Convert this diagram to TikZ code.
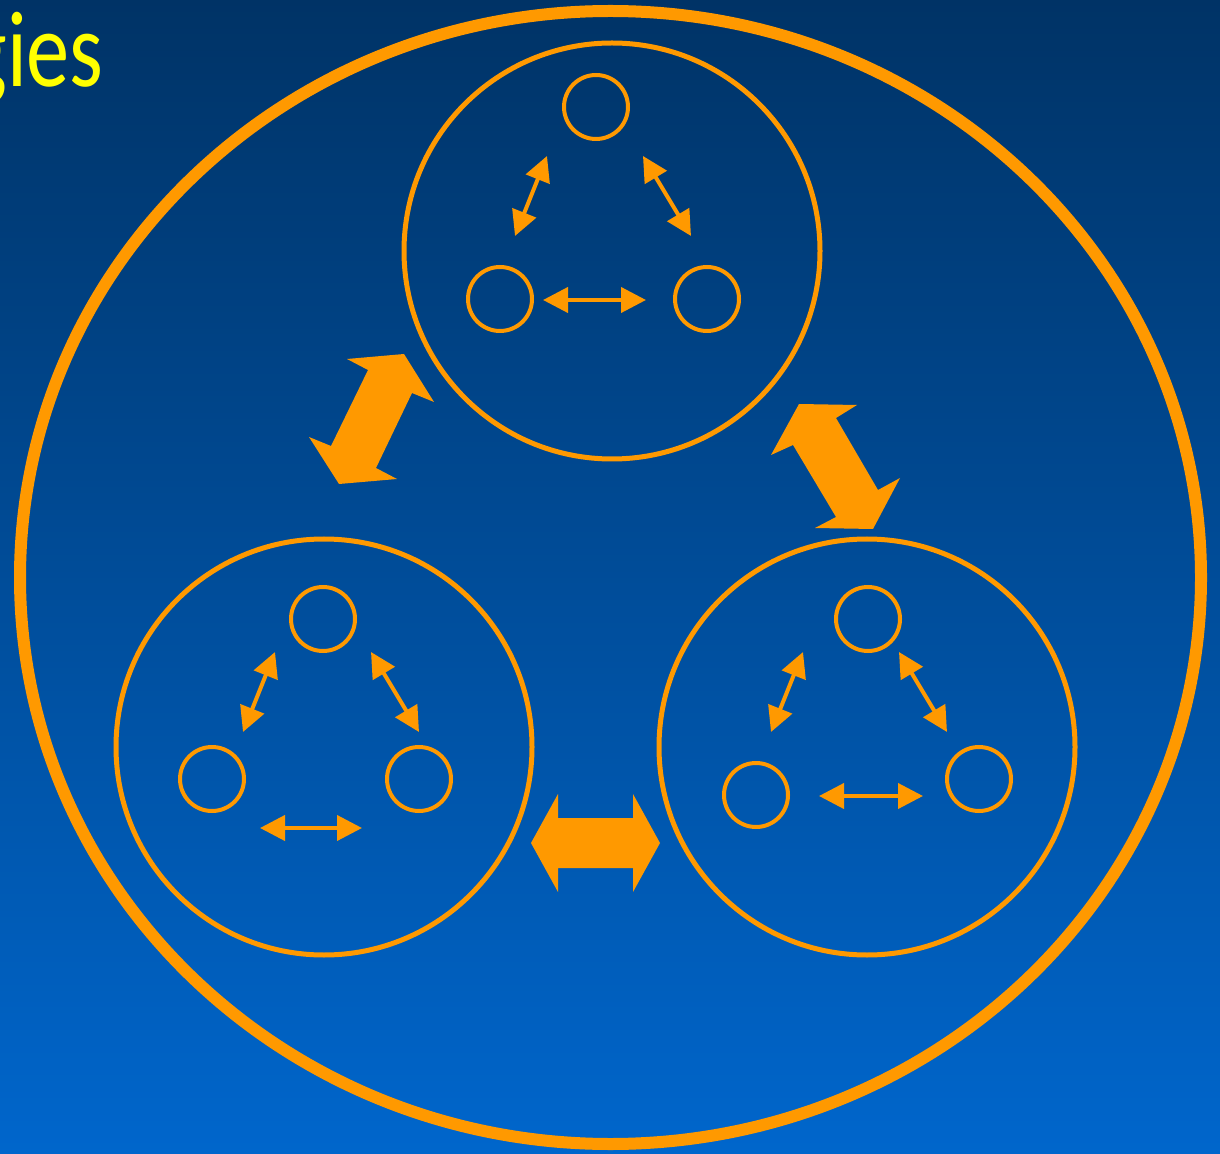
\documentclass[tikz,border=0pt]{standalone}
\usepackage{fontspec}
\setmainfont{Carlito}
\usetikzlibrary{arrows.meta}

\definecolor{bgtop}{RGB}{0,51,102}
\definecolor{bgbot}{RGB}{0,102,204}
\definecolor{ring}{RGB}{255,153,0}
\definecolor{title}{RGB}{255,255,0}

\tikzset{
  group/.style={circle, draw=ring, line width=2.5pt, minimum size=208pt, inner sep=0pt},
  member/.style={circle, draw=ring, line width=2pt, minimum size=32pt, inner sep=0pt},
  link/.style={draw=ring, line width=2pt,
    {Triangle[length=12.5pt,width=12.5pt]}-{Triangle[length=12.5pt,width=12.5pt]}},
  bigarrow/.style={fill=ring},
}

\begin{document}
\begin{tikzpicture}[x=0.5pt,y=-0.5pt]
  \useasboundingbox (0,0) rectangle (1220,1154);
  \clip (0,0) rectangle (1220,1154);
  \shade[top color=bgtop, bottom color=bgbot] (0,0) rectangle (1220,1154);

  % heading fragment, running off the left edge
  \node[anchor=base east, inner sep=0pt, text=title, xscale=0.8,
        font=\fontsize{54}{60}\selectfont] (heading) at (104,87) {gies};

  % outer boundary
  \draw[ring, line width=6pt] (610.5,577.5) ellipse [x radius=590.5, y radius=566.5];

  % three groups
  \node[group] (gtop) at (612,251) {};
  \node[group] (gleft) at (324,747) {};
  \node[group] (gright) at (867,747) {};

  % members of the top group
  \node[member] (ta) at (596,107) {};
  \node[member] (tb) at (500,299) {};
  \node[member] (tc) at (707,299) {};
  \coordinate (ta1) at (547,156); \coordinate (tb1) at (515,236);
  \coordinate (ta2) at (643,156); \coordinate (tc2) at (691,236);
  \coordinate (tb3) at (543,300); \coordinate (tc3) at (646,300);
  \draw[link] (tb1) -- (ta1);
  \draw[link] (ta2) -- (tc2);
  \draw[link] (tb3) -- (tc3);

  % members of the left group
  \node[member] (la) at (323,619) {};
  \node[member] (lb) at (212,779) {};
  \node[member] (lc) at (419,779) {};
  \coordinate (la1) at (275,652); \coordinate (lb1) at (243,732);
  \coordinate (la2) at (371,652); \coordinate (lc2) at (419,732);
  \coordinate (lb3) at (260,828); \coordinate (lc3) at (362,828);
  \draw[link] (lb1) -- (la1);
  \draw[link] (la2) -- (lc2);
  \draw[link] (lb3) -- (lc3);

  % members of the right group
  \node[member] (ra) at (868,619) {};
  \node[member] (rb) at (756,795) {};
  \node[member] (rc) at (979,779) {};
  \coordinate (ra1) at (803,652); \coordinate (rb1) at (771,732);
  \coordinate (ra2) at (899,652); \coordinate (rc2) at (947,732);
  \coordinate (rb3) at (819,796); \coordinate (rc3) at (923,796);
  \draw[link] (rb1) -- (ra1);
  \draw[link] (ra2) -- (rc2);
  \draw[link] (rb3) -- (rc3);

  % wide two-way arrows between groups
  \fill[bigarrow] (347,359) -- (404,354) -- (434,402) -- (412,393) -- (376,468)
    -- (397,479) -- (339,484) -- (309,437) -- (331,446) -- (368,370) -- cycle;
  \fill[bigarrow] (799,404) -- (857,405) -- (836,418) -- (878,490) -- (900,478)
    -- (873,529) -- (815,528) -- (836,517) -- (793,445) -- (771,455) -- cycle;
  \fill[bigarrow] (531,843) -- (558,794) -- (558,818) -- (633,818) -- (633,794)
    -- (660,843) -- (633,892) -- (633,868) -- (558,868) -- (558,892) -- cycle;
\end{tikzpicture}
\end{document}
